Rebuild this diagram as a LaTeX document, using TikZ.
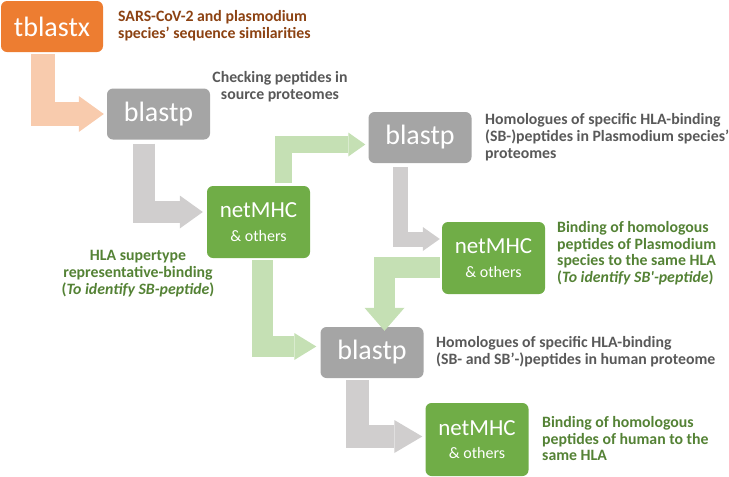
\documentclass[tikz,border=0pt]{standalone}
\usepackage{fontspec}
\setmainfont{Carlito}
\usepackage{tikz}
\usetikzlibrary{arrows.meta}

\definecolor{toolorange}{RGB}{237,125,49}
\definecolor{toolgray}{RGB}{165,165,165}
\definecolor{toolgreen}{RGB}{112,173,71}
\definecolor{flowsalmon}{RGB}{248,203,173}
\definecolor{flowgray}{RGB}{208,206,206}
\definecolor{flowgreen}{RGB}{197,224,180}
\definecolor{notebrown}{RGB}{140,66,18}
\definecolor{notegray}{RGB}{89,89,89}
\definecolor{notegreen}{RGB}{84,130,53}

\begin{document}
\begin{tikzpicture}[x=1pt, y=-1pt,
	tool/.style={rounded corners=6pt, text=white, inner sep=0pt,
		minimum width=103pt, minimum height=51pt,
		font=\fontsize{28}{30}\selectfont},
	mhc/.style={tool, fill=toolgreen, minimum height=72pt, align=center,
		font=\fontsize{23}{23.5}\selectfont},
	note/.style={anchor=north west, inner sep=0pt, align=left,
		font=\bfseries\fontsize{15.8}{16.8}\selectfont},
	flow/.style n args={3}{line width=#1,
		-{Triangle[width=#2, length=#3, line width=0pt]}}]
			\useasboundingbox (0,0) rectangle (729,477);
			\node[tool, fill=toolorange, minimum width=102pt] (tblastx) at (52,26.5) {tblastx};
			\node[tool, fill=toolgray] (blastpA) at (158.5,114) {blastp};
			\node[mhc] (mhcA) at (258.5,222) {netMHC\\{\fontsize{16}{23.5}\selectfont\& others}};
			\node[tool, fill=toolgray] (blastpB) at (420,137.5) {blastp};
			\node[mhc] (mhcB) at (493.5,258) {netMHC\\{\fontsize{16}{23.5}\selectfont\& others}};
			\node[tool, fill=toolgray] (blastpC) at (372,352.5) {blastp};
			\node[mhc, minimum height=73pt] (mhcC) at (477,439.5) {netMHC\\{\fontsize{16}{23.5}\selectfont\& others}};
			\node[note, text=notebrown] (sars) at (118,10.5)
			{SARS-CoV-2 and plasmodium\\species’ sequence similarities};
			\node[note, anchor=north, align=center, text=notegray] (checking) at (280,71.5)
			{Checking peptides in\\source proteomes};
			\node[note, anchor=north, align=center, text=notegreen] (supertype) at (138,250)
			{HLA supertype\\representative-binding\\(\textit{To identify SB-peptide})};
			\node[note, text=notegray] (homplas) at (485,113.5)
			{Homologues of specific HLA-binding\\(SB-)peptides in Plasmodium species’\\proteomes};
			\node[note, text=notegreen] (bindplas) at (557,221)
			{Binding of homologous\\peptides of Plasmodium\\species to the same HLA\\(\textit{To identify SB\textquotesingle-peptide})};
			\node[note, text=notegray] (homhum) at (436,336)
			{Homologues of specific HLA-binding\\(SB- and SB’-)peptides in human proteome};
			\node[note, text=notegreen] (bindhum) at (542,416)
			{Binding of homologous\\peptides of human to the\\same HLA};
			\draw[flow={24pt}{36pt}{25pt}, flowsalmon]
			([xshift=42pt,yshift=-2pt]tblastx.south west) |- ([xshift=-3pt]blastpA.west);
			\draw[flow={22pt}{33pt}{23pt}, flowgray]
			([xshift=37pt,yshift=-4pt]blastpA.south west) |- ([xshift=-4pt,yshift=10pt]mhcA.west);
			\draw[flow={17pt}{24pt}{17pt}, flowgreen]
			([xshift=76.5pt,yshift=3pt]mhcA.north west) |- ([xshift=-3pt,yshift=-7pt]blastpB.west);
			\draw[flow={15pt}{24pt}{17pt}, flowgray]
			([xshift=32.5pt,yshift=-4pt]blastpB.south west) |- ([xshift=-2pt,yshift=19pt]mhcB.west);
			\draw[flow={21pt}{27pt}{22pt}, flowgreen]
			([xshift=55.5pt,yshift=-2pt]mhcA.south west) |- ([xshift=-4pt,yshift=6pt]blastpC.west);
			\draw[flow={21pt}{40pt}{23pt}, flowgreen]
			([xshift=-2pt,yshift=-9.5pt]mhcB.west) -| ([xshift=12.5pt,yshift=-4pt]blastpC.north);
			\draw[flow={23pt}{33pt}{28pt}, flowgray]
			([xshift=37.5pt,yshift=-2pt]blastpC.south west) |- ([xshift=-3pt,yshift=3pt]mhcC.west);
			\end{tikzpicture}
\end{document}
